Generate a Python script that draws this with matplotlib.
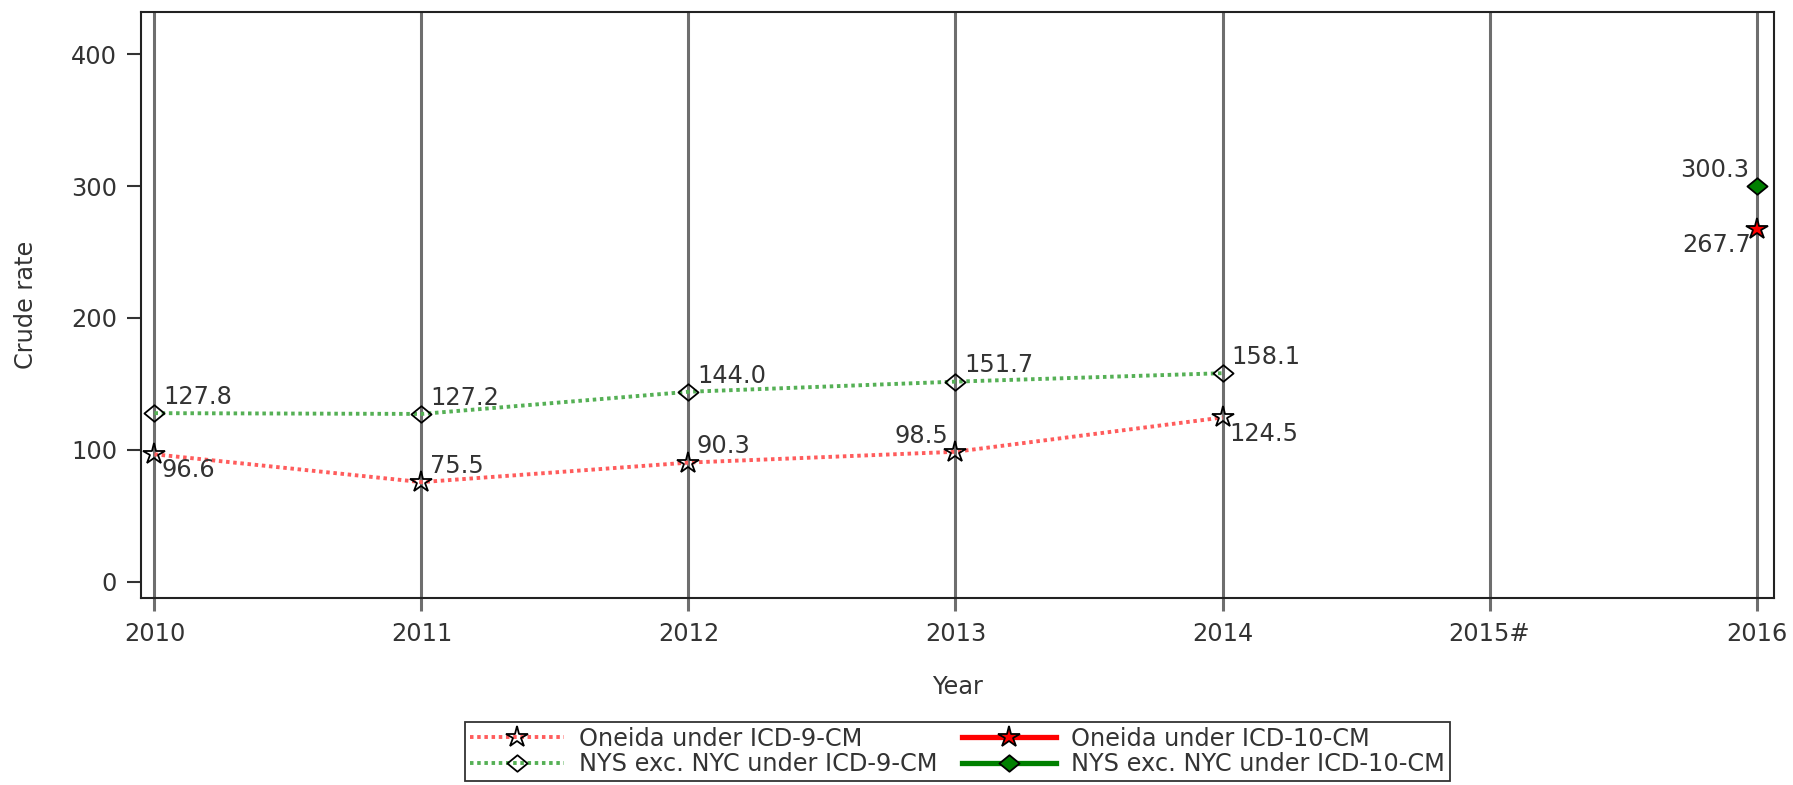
import matplotlib
matplotlib.use("Agg")
import matplotlib.pyplot as plt
from matplotlib.lines import Line2D
from matplotlib.path import Path

years = ["2010", "2011", "2012", "2013", "2014", "2015#", "2016"]
oneida_icd9 = [96.6, 75.5, 90.3, 98.5, 124.5]
nys_icd9 = [127.8, 127.2, 144.0, 151.7, 158.1]
oneida_icd10 = [267.7]
nys_icd10 = [300.3]

x9 = list(range(5))
x10 = [6]

W, H = 1793, 785
fig = plt.figure(figsize=(W / 100, H / 100), dpi=100)
ax = fig.add_axes([140.6 / W, 1 - 597.5 / H, (1773.6 - 140.6) / W, (597.5 - 12) / H])

FS = 17.3
TXT = "#333333"
GRID = "#6e6e6e"

# slightly flattened diamond marker
diamond = Path([(-1, 0), (0, 0.82), (1, 0), (0, -0.82), (-1, 0)],
               [Path.MOVETO, Path.LINETO, Path.LINETO, Path.LINETO, Path.CLOSEPOLY])
DMS = 14.5
SMS = 16

ax.set_xlim(-0.052, 6.064)
ax.set_ylim(-12, 432)

for i in range(len(years)):
    ax.axvline(i, color=GRID, lw=2.2, zorder=1)

red9 = "#ff5c5c"
green9 = "#55b055"
DOT = (0, (0.9, 0.95))
ax.plot(x9, oneida_icd9, color=red9, lw=2.8, ls=DOT, zorder=2)
ax.plot(x9, nys_icd9, color=green9, lw=2.8, ls=DOT, zorder=2)
ax.plot(x9, oneida_icd9, ls="none", marker="*", ms=SMS, mfc="none", mec="black", mew=1.3, zorder=3)
ax.plot(x9, nys_icd9, ls="none", marker=diamond, ms=DMS, mfc="none", mec="black", mew=1.3, zorder=3)
ax.plot(x10, oneida_icd10, ls="none", marker="*", ms=SMS, mfc="red", mec="black", mew=1.3, zorder=3)
ax.plot(x10, nys_icd10, ls="none", marker=diamond, ms=DMS, mfc="green", mec="black", mew=1.3, zorder=3)


def lab(x, y, dx, dy, ha, va):
    ax.annotate(f"{y:.1f}", (x, y), xytext=(dx, dy), textcoords="offset points",
                ha=ha, va=va, fontsize=FS, color=TXT, zorder=4)


above_r = (6, 3, "left", "bottom")
below_r = (5, -3, "left", "top")
above_l = (-5, 3, "right", "bottom")
below_l = (-4, -3, "right", "top")

lab(0, nys_icd9[0], *above_r)
lab(0, oneida_icd9[0], *below_r)
lab(1, nys_icd9[1], *above_r)
lab(1, oneida_icd9[1], *above_r)
lab(2, nys_icd9[2], *above_r)
lab(2, oneida_icd9[2], *above_r)
lab(3, nys_icd9[3], *above_r)
lab(3, oneida_icd9[3], *above_l)
lab(4, nys_icd9[4], *above_r)
lab(4, oneida_icd9[4], *below_r)
lab(6, nys_icd10[0], *above_l)
lab(6, oneida_icd10[0], *below_l)

ax.set_xticks(range(len(years)))
ax.set_xticklabels(years, fontsize=FS, color=TXT)
ax.set_yticks([0, 100, 200, 300, 400])
ax.tick_params(axis="y", labelsize=FS, labelcolor=TXT, length=10, width=1.5, color="#333333", pad=7)
ax.tick_params(axis="x", length=9.5, width=2.2, color=GRID, pad=8)
for s in ax.spines.values():
    s.set_linewidth(1.5)
    s.set_color("#222222")

ax.set_xlabel("Year", fontsize=FS, color=TXT)
ax.xaxis.set_label_coords(0.5, -0.133)
ax.set_ylabel("Crude rate", fontsize=FS, color=TXT)
ax.yaxis.set_label_coords(-0.063, 0.5)

handles = [
    Line2D([], [], color=red9, lw=2.8, ls=DOT, marker="*", ms=SMS, mfc="none", mec="black", mew=1.3),
    Line2D([], [], color=green9, lw=2.8, ls=DOT, marker=diamond, ms=DMS, mfc="none", mec="black", mew=1.3),
    Line2D([], [], color="red", lw=3.8, marker="*", ms=SMS, mfc="red", mec="black", mew=1.3),
    Line2D([], [], color="green", lw=3.8, marker=diamond, ms=DMS, mfc="green", mec="black", mew=1.3),
]
names = ["Oneida under ICD-9-CM", "NYS exc. NYC under ICD-9-CM",
         "Oneida under ICD-10-CM", "NYS exc. NYC under ICD-10-CM"]
leg = fig.legend(handles, names, ncol=2, loc="upper center",
                 bbox_to_anchor=((463 + 1452) / 2 / W, 1 - 722 / H),
                 fontsize=FS, frameon=True, fancybox=False, edgecolor="black",
                 handlelength=3.9, columnspacing=1.0, handletextpad=0.65,
                 borderpad=0.2, labelspacing=0.05, borderaxespad=0)
leg.get_frame().set_linewidth(1.3)
for t in leg.get_texts():
    t.set_color(TXT)

fig.savefig("out.png", dpi=100)
